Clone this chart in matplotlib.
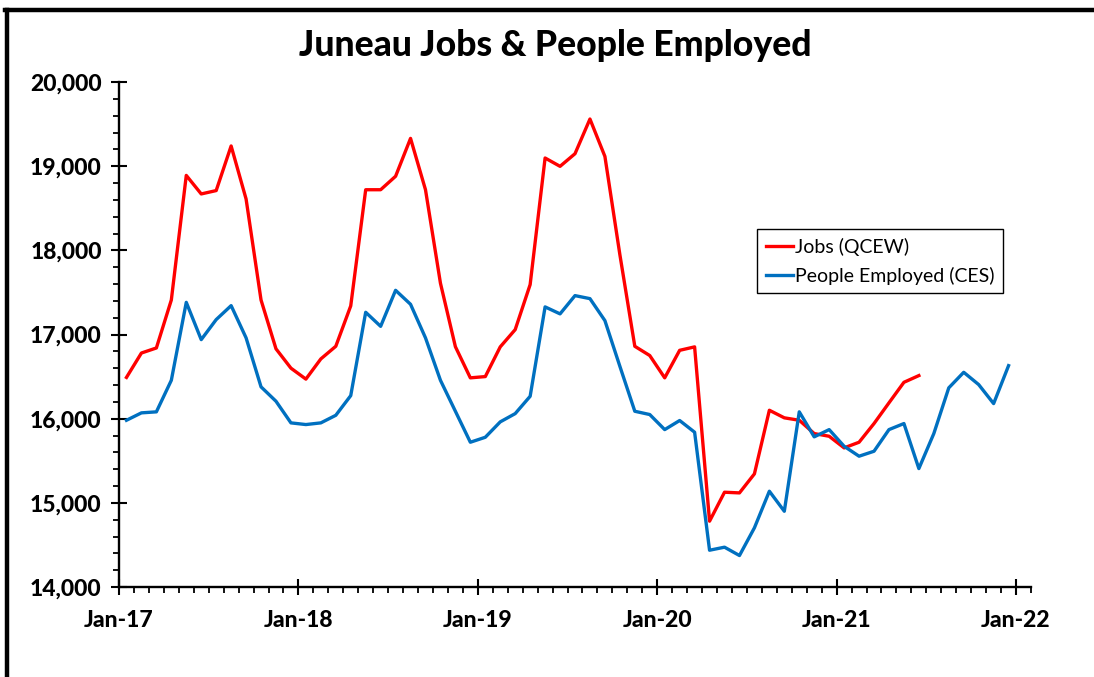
import matplotlib.pyplot as plt
import numpy as np
from matplotlib.ticker import MultipleLocator, FuncFormatter
from matplotlib.lines import Line2D

# monthly values, Jan-17 onwards
jobs = [16490, 16780, 16840, 17410, 18890, 18670, 18710, 19240, 18610, 17410, 16830, 16600,
        16470, 16710, 16860, 17340, 18720, 18720, 18880, 19330, 18720, 17610, 16855, 16485,
        16500, 16853, 17058, 17593, 19097, 18998, 19148, 19560, 19116, 17950, 16860, 16750,
        16485, 16812, 16853, 14782, 15126, 15118, 15344, 16100, 16010, 15981, 15823, 15791,
        15653, 15720, 15942, 16188, 16432, 16512]
employed = [15981, 16069, 16081, 16456, 17382, 16939, 17177, 17343, 16960, 16378, 16207, 15950,
            15930, 15950, 16040, 16274, 17264, 17097, 17525, 17359, 16960, 16456, 16088, 15720,
            15779, 15962, 16060, 16266, 17328, 17245, 17462, 17426, 17165, 16623, 16088, 16049,
            15870, 15978, 15839, 14437, 14473, 14374, 14703, 15138, 14900, 16081, 15784, 15870,
            15672, 15554, 15613, 15870, 15942, 15407, 15823, 16366, 16551, 16405, 16179, 16630]
year_labels = ['Jan-17', 'Jan-18', 'Jan-19', 'Jan-20', 'Jan-21', 'Jan-22']

plt.rcParams['font.family'] = ['Lato', 'DejaVu Sans']

W, H = 1094, 677
fig = plt.figure(figsize=(W / 100, H / 100), dpi=100)
ax = fig.add_axes([119 / W, 1 - 587 / H, (1031 - 119) / W, (587 - 82) / H])

# points sit between month ticks
x_jobs = np.arange(len(jobs)) + 0.5
x_emp = np.arange(len(employed)) + 0.5

ax.plot(x_jobs, jobs, color='#FF0000', lw=2.4, label='Jobs (QCEW)')
ax.plot(x_emp, employed, color='#0070C0', lw=2.4, label='People Employed (CES)')

ax.set_xlim(0, 61)
ax.set_ylim(14000, 20000)
ax.set_xticks(np.arange(0, 61, 12))
ax.set_xticklabels(year_labels)
ax.set_xticks(np.arange(0, 62), minor=True)
ax.yaxis.set_major_locator(MultipleLocator(1000))
ax.yaxis.set_minor_locator(MultipleLocator(200))
ax.yaxis.set_major_formatter(FuncFormatter(lambda v, p: f'{int(v):,}'))

for s in ['top', 'right']:
    ax.spines[s].set_visible(False)
for s in ['left', 'bottom']:
    ax.spines[s].set_linewidth(1.7)
    ax.spines[s].set_color('black')

ax.tick_params(which='major', direction='inout', length=11, width=1.5, labelsize=16.5)
ax.tick_params(which='minor', direction='out', length=4.5, width=1.3)
ax.tick_params(axis='y', which='major', pad=7)
ax.tick_params(axis='x', which='major', pad=11)
for lab in ax.get_xticklabels() + ax.get_yticklabels():
    lab.set_fontweight('black')

leg = ax.legend(loc='upper left', bbox_to_anchor=(757 / W, 1 - 229 / H),
                bbox_transform=fig.transFigure, borderaxespad=0, fontsize=14,
                handlelength=1.4, handletextpad=0.1, fancybox=False,
                edgecolor='black', framealpha=1, borderpad=0.45, labelspacing=0.55)
leg.get_frame().set_linewidth(1.0)

fig.text(555 / W, 1 - 46 / H, 'Juneau Jobs & People Employed', ha='center', va='center',
         fontsize=25.6, fontweight='black')

# chart-area border (left and top visible)
fig.add_artist(Line2D([6.5 / W, 6.5 / W], [0, 1 - 10 / H], transform=fig.transFigure,
                      color='black', lw=3.2))
fig.add_artist(Line2D([5 / W, 1], [1 - 10 / H, 1 - 10 / H], transform=fig.transFigure,
                      color='black', lw=3.2))

fig.savefig('out.png', dpi=100)
